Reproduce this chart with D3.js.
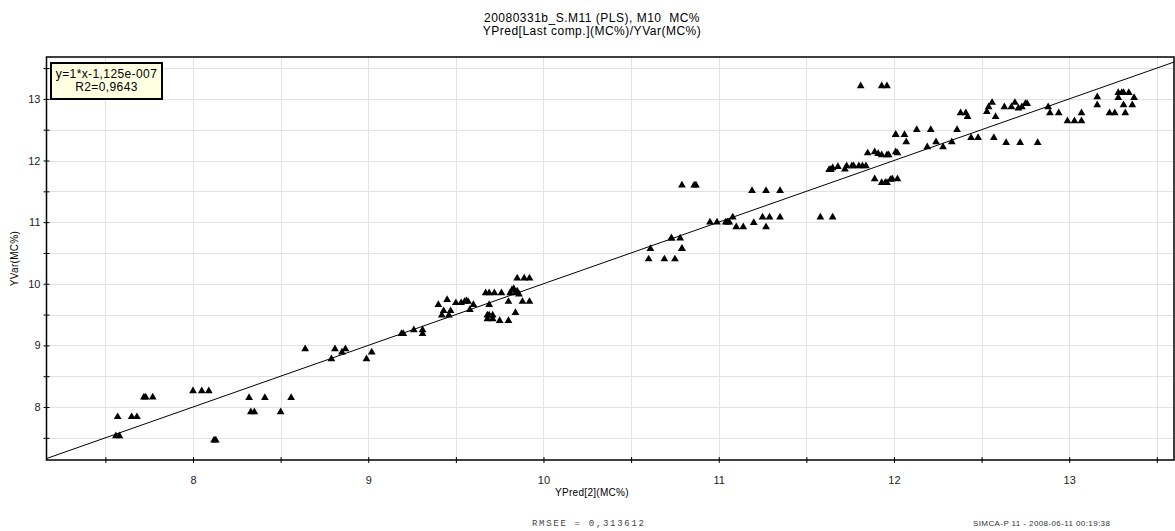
<!DOCTYPE html>
<html>
<head>
<meta charset="utf-8">
<script src="https://cdn.jsdelivr.net/npm/d3@7"></script>
<style>
  body { margin: 0; background: #fff; }
  svg { display: block; font-family: "Liberation Sans", Arial, sans-serif; }
  text { white-space: pre; }
</style>
</head>
<body>
<svg id="chart" width="1175" height="531"></svg>
<script>
// Predicted vs observed moisture content (MC%)
const yPred = [
  7.56, 7.58, 7.57, 7.65, 7.68, 7.72, 7.73, 7.77, 8.00, 8.05, 8.09, 8.12, 8.13,
  8.32, 8.33, 8.35, 8.41, 8.50, 8.56, 8.64, 8.79, 8.81, 8.85, 8.87, 8.99, 9.02,
  9.19, 9.20, 9.26, 9.31, 9.31,
  9.40, 9.45, 9.42, 9.43, 9.46, 9.47, 9.50, 9.53, 9.55, 9.56, 9.57, 9.58, 9.60,
  9.67, 9.69, 9.72, 9.68, 9.69, 9.71, 9.71, 9.68, 9.69, 9.75, 9.76, 9.80, 9.80,
  9.81, 9.82, 9.83, 9.84, 9.85, 9.86, 9.84, 9.85, 9.89, 9.92, 9.88, 9.92,
  10.60, 10.61, 10.69, 10.75, 10.73, 10.73, 10.78, 10.79, 10.79, 10.79, 10.86,
  10.87, 10.95, 10.99, 11.04, 11.05, 11.06, 11.08, 11.10, 11.14, 11.19, 11.27,
  11.35, 11.20, 11.25, 11.29, 11.27, 11.35, 11.58, 11.65,
  11.63, 11.64, 11.65, 11.68, 11.72, 11.73, 11.76, 11.77, 11.80, 11.82, 11.84,
  11.85, 11.89, 11.91, 11.93, 11.96, 11.97, 12.01, 12.02, 11.89, 11.93, 11.95,
  11.96, 11.98, 11.99, 12.02, 11.81, 11.93, 11.96,
  12.01, 12.01, 12.06, 12.07, 12.13, 12.21, 12.19, 12.24, 12.28, 12.33, 12.36,
  12.38, 12.41, 12.42, 12.44, 12.48, 12.53, 12.54, 12.56, 12.57, 12.58, 12.63,
  12.64, 12.67, 12.69, 12.71, 12.73, 12.75, 12.76, 12.72, 12.82,
  12.88, 12.89, 12.94, 12.99, 13.03, 13.07, 13.07, 13.16, 13.16, 13.23, 13.26,
  13.28, 13.30, 13.31, 13.34, 13.28, 13.31, 13.32, 13.36, 13.37
];
const yVar = [
  7.53, 7.53, 7.84, 7.84, 7.84, 8.16, 8.16, 8.16, 8.26, 8.26, 8.26, 7.46, 7.46,
  8.15, 7.92, 7.92, 8.15, 7.92, 8.15, 8.94, 8.78, 8.94, 8.89, 8.94, 8.78, 8.89,
  9.19, 9.19, 9.25, 9.19, 9.25,
  9.66, 9.74, 9.49, 9.56, 9.49, 9.56, 9.69, 9.69, 9.71, 9.72, 9.71, 9.58, 9.66,
  9.85, 9.85, 9.85, 9.49, 9.49, 9.49, 9.43, 9.43, 9.66, 9.40, 9.85, 9.71, 9.40,
  9.85, 9.90, 9.92, 9.85, 9.88, 9.83, 9.53, 10.09, 10.09, 10.09, 9.71, 9.71,
  10.40, 10.57, 10.40, 10.40, 10.74, 10.74, 10.74, 10.57, 10.57, 11.60, 11.60,
  11.60, 11.00, 11.00, 11.00, 11.00, 11.00, 11.08, 10.92, 10.92, 11.51, 11.51,
  11.51, 10.99, 11.08, 11.08, 10.92, 11.08, 11.08, 11.08,
  11.85, 11.85, 11.88, 11.90, 11.86, 11.91, 11.91, 11.91, 11.91, 11.91, 11.91,
  12.12, 12.14, 12.11, 12.09, 12.09, 12.09, 12.14, 12.12, 11.70, 11.64, 11.64,
  11.64, 11.69, 11.70, 11.70, 13.21, 13.21, 13.21,
  12.42, 12.42, 12.42, 12.30, 12.50, 12.50, 12.22, 12.30, 12.22, 12.30, 12.50,
  12.77, 12.77, 12.71, 12.37, 12.37, 12.79, 12.87, 12.94, 12.37, 12.71, 12.87,
  12.29, 12.87, 12.94, 12.85, 12.87, 12.92, 12.92, 12.29, 12.29,
  12.87, 12.77, 12.77, 12.64, 12.64, 12.64, 12.77, 13.03, 12.90, 12.77, 12.77,
  13.10, 13.10, 13.10, 13.10, 13.02, 12.90, 12.77, 12.90, 13.02
];

// Fit statistics shown in the box and footer
const fitLines = ["y=1*x-1,125e-007", "R2=0,9643"];
const titleLines = ["20080331b_S.M11 (PLS), M10  MC%", "YPred[Last comp.](MC%)/YVar(MC%)"];
const xTicks = [7.5, 8, 8.5, 9, 9.5, 10, 10.5, 11, 11.5, 12, 12.5, 13, 13.5];
const yTicks = [7.5, 8, 8.5, 9, 9.5, 10, 10.5, 11, 11.5, 12, 12.5, 13, 13.5];
const rmseeText = "RMSEE = 0,313612";
const stampText = "SIMCA-P 11 - 2008-06-11 00:19:38";

const svg = d3.select("#chart");
const plot = { left: 46.5, top: 57, right: 1174, bottom: 460 };

const x = d3.scaleLinear().domain([7.164, 13.598]).range([plot.left, plot.right]);
const y = d3.scaleLinear().domain([7.14, 13.68]).range([plot.bottom, plot.top]);

svg.append("clipPath").attr("id", "plot-clip")
  .append("rect")
  .attr("x", plot.left).attr("y", plot.top)
  .attr("width", plot.right - plot.left).attr("height", plot.bottom - plot.top);

// Grid at every half unit
const grid = svg.append("g").attr("stroke", "#e2e2e2").attr("stroke-width", 1);
grid.selectAll("line.gx").data(xTicks).join("line")
  .attr("class", "gx")
  .attr("x1", d => Math.round(x(d)) + 0.5).attr("x2", d => Math.round(x(d)) + 0.5)
  .attr("y1", plot.top).attr("y2", plot.bottom);
grid.selectAll("line.gy").data(yTicks).join("line")
  .attr("class", "gy")
  .attr("y1", d => Math.round(y(d)) + 0.5).attr("y2", d => Math.round(y(d)) + 0.5)
  .attr("x1", plot.left).attr("x2", plot.right);

// Frame
svg.append("rect")
  .attr("x", plot.left).attr("y", plot.top)
  .attr("width", plot.right - plot.left).attr("height", plot.bottom - plot.top)
  .attr("fill", "none").attr("stroke", "#000").attr("stroke-width", 1.5);

// Axes: ticks cross the axis line, labels only on whole numbers
const fmt = d => Number.isInteger(d) ? d : "";
const xAxis = svg.append("g")
  .attr("transform", `translate(0,${plot.bottom})`)
  .call(d3.axisBottom(x).tickValues(xTicks).tickFormat(fmt).tickSize(3).tickPadding(13));
xAxis.select(".domain").remove();
xAxis.selectAll(".tick line").attr("y1", -3).attr("stroke", "#000");
xAxis.selectAll(".tick text").attr("font-size", 11).attr("fill", "#222")
  .attr("font-family", "Liberation Sans, Arial, sans-serif");

const yAxis = svg.append("g")
  .attr("transform", `translate(${plot.left},0)`)
  .call(d3.axisLeft(y).tickValues(yTicks).tickFormat(fmt).tickSize(3).tickPadding(3));
yAxis.select(".domain").remove();
yAxis.selectAll(".tick line").attr("x1", 3).attr("stroke", "#000");
yAxis.selectAll(".tick text").attr("font-size", 11).attr("fill", "#222")
  .attr("font-family", "Liberation Sans, Arial, sans-serif");

// Regression line y = x
const body = svg.append("g").attr("clip-path", "url(#plot-clip)");
const [x0, x1] = x.domain();
body.append("line")
  .attr("x1", x(x0)).attr("y1", y(x0))
  .attr("x2", x(x1)).attr("y2", y(x1))
  .attr("stroke", "#000").attr("stroke-width", 1);

// Observations
const points = yPred.map((d, i) => ({ pred: d, obs: yVar[i] }));
body.selectAll("path.pt").data(points).join("path")
  .attr("class", "pt")
  .attr("d", d3.symbol(d3.symbolTriangle, 26))
  .attr("transform", d => `translate(${x(d.pred)},${y(d.obs)})`)
  .attr("fill", "#000");

// Equation box
const box = svg.append("g");
box.append("rect")
  .attr("x", 51).attr("y", 63).attr("width", 111).attr("height", 36)
  .attr("fill", "#ffffe1").attr("stroke", "#000").attr("stroke-width", 2);
box.selectAll("text").data(fitLines).join("text")
  .attr("x", 106.5).attr("y", (d, i) => 78 + i * 13)
  .attr("text-anchor", "middle").attr("font-size", 12).attr("letter-spacing", 0.4)
  .attr("fill", "#000")
  .text(d => d);

// Titles
svg.selectAll("text.title").data(titleLines).join("text")
  .attr("class", "title")
  .attr("x", 592).attr("y", (d, i) => 22 + i * 13)
  .attr("text-anchor", "middle").attr("font-size", 12).attr("letter-spacing", 0.5)
  .attr("fill", "#000")
  .text(d => d);

svg.append("text")
  .attr("x", 592).attr("y", 496)
  .attr("text-anchor", "middle").attr("font-size", 10).attr("letter-spacing", 0.3)
  .attr("fill", "#000")
  .text("YPred[2](MC%)");

svg.append("text")
  .attr("transform", `translate(18,${(plot.top + plot.bottom) / 2}) rotate(-90)`)
  .attr("text-anchor", "middle").attr("font-size", 10).attr("letter-spacing", 0.3)
  .attr("fill", "#000")
  .text("YVar(MC%)");

// Footer
svg.append("text")
  .attr("x", 532).attr("y", 526)
  .attr("font-family", "Liberation Mono, Courier New, monospace")
  .attr("font-size", 9).attr("letter-spacing", 1.7).attr("fill", "#444")
  .text(rmseeText);

svg.append("text")
  .attr("x", 973).attr("y", 526)
  .attr("font-size", 8).attr("letter-spacing", 0.4).attr("fill", "#333")
  .text(stampText);
</script>
</body>
</html>
